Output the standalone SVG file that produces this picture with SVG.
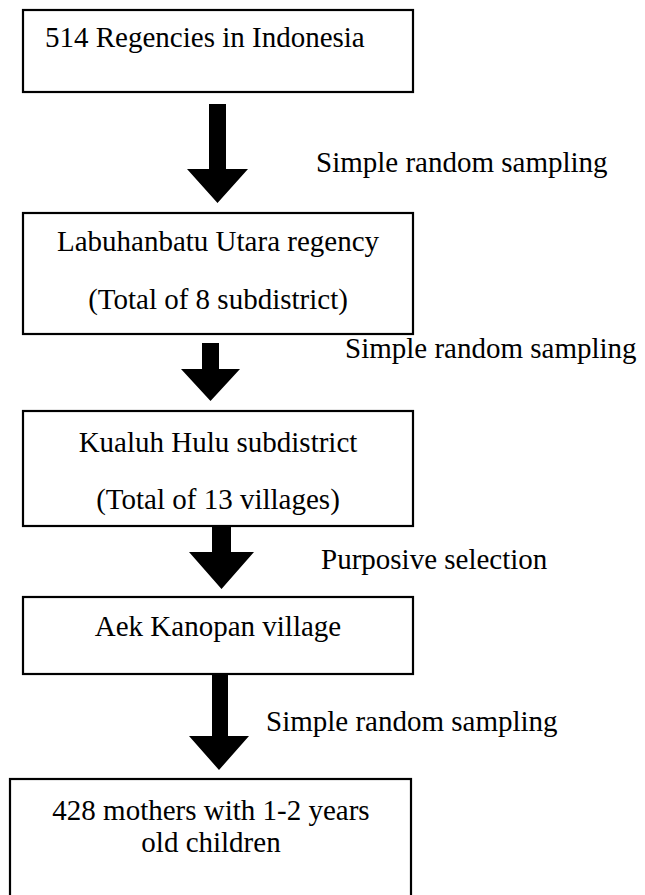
<svg xmlns="http://www.w3.org/2000/svg" width="645" height="895" viewBox="0 0 645 895">
<style>
.box{fill:#fff;stroke:#000;stroke-width:2.2}
.t{font-family:"Liberation Serif","Times New Roman",serif;font-size:29px;fill:#000}
.c{text-anchor:middle}
.arr{fill:#000}
</style>
<rect width="645" height="895" fill="#fff"/>
<g id="n1">
<rect class="box" x="23" y="10" width="390" height="82"/>
<text class="t" x="45" y="47">514 Regencies in Indonesia</text>
</g>
<g id="n2">
<rect class="box" x="23" y="213" width="390" height="121"/>
<text class="t c" x="218" y="251">Labuhanbatu Utara regency</text>
<text class="t c" x="218" y="309">(Total of 8 subdistrict)</text>
</g>
<g id="n3">
<rect class="box" x="23" y="411" width="390" height="115"/>
<text class="t c" x="218" y="452">Kualuh Hulu subdistrict</text>
<text class="t c" x="218" y="509">(Total of 13 villages)</text>
</g>
<g id="n4">
<rect class="box" x="23" y="597" width="390" height="77"/>
<text class="t c" x="218" y="636">Aek Kanopan village</text>
</g>
<g id="n5">
<rect class="box" x="10" y="779" width="401" height="130"/>
<text class="t c" x="211" y="820">428 mothers with 1-2 years</text>
<text class="t c" x="211" y="852">old children</text>
</g>
<g id="connectors">
<polygon class="arr" points="209,104 226,104 226,169 248,169 217.5,203 187,169 209,169"/>
<polygon class="arr" points="202,343 219,343 219,369 240,369 210.5,401 181,369 202,369"/>
<polygon class="arr" points="212,526 231,526 231,552 254,552 221.5,589 189,552 212,552"/>
<polygon class="arr" points="212,674 228,674 228,736 249,736 219,770 189,736 212,736"/>
<text class="t" x="316" y="172">Simple random sampling</text>
<text class="t" x="345" y="358">Simple random sampling</text>
<text class="t" x="321" y="569">Purposive selection</text>
<text class="t" x="266" y="731">Simple random sampling</text>
</g>
</svg>
